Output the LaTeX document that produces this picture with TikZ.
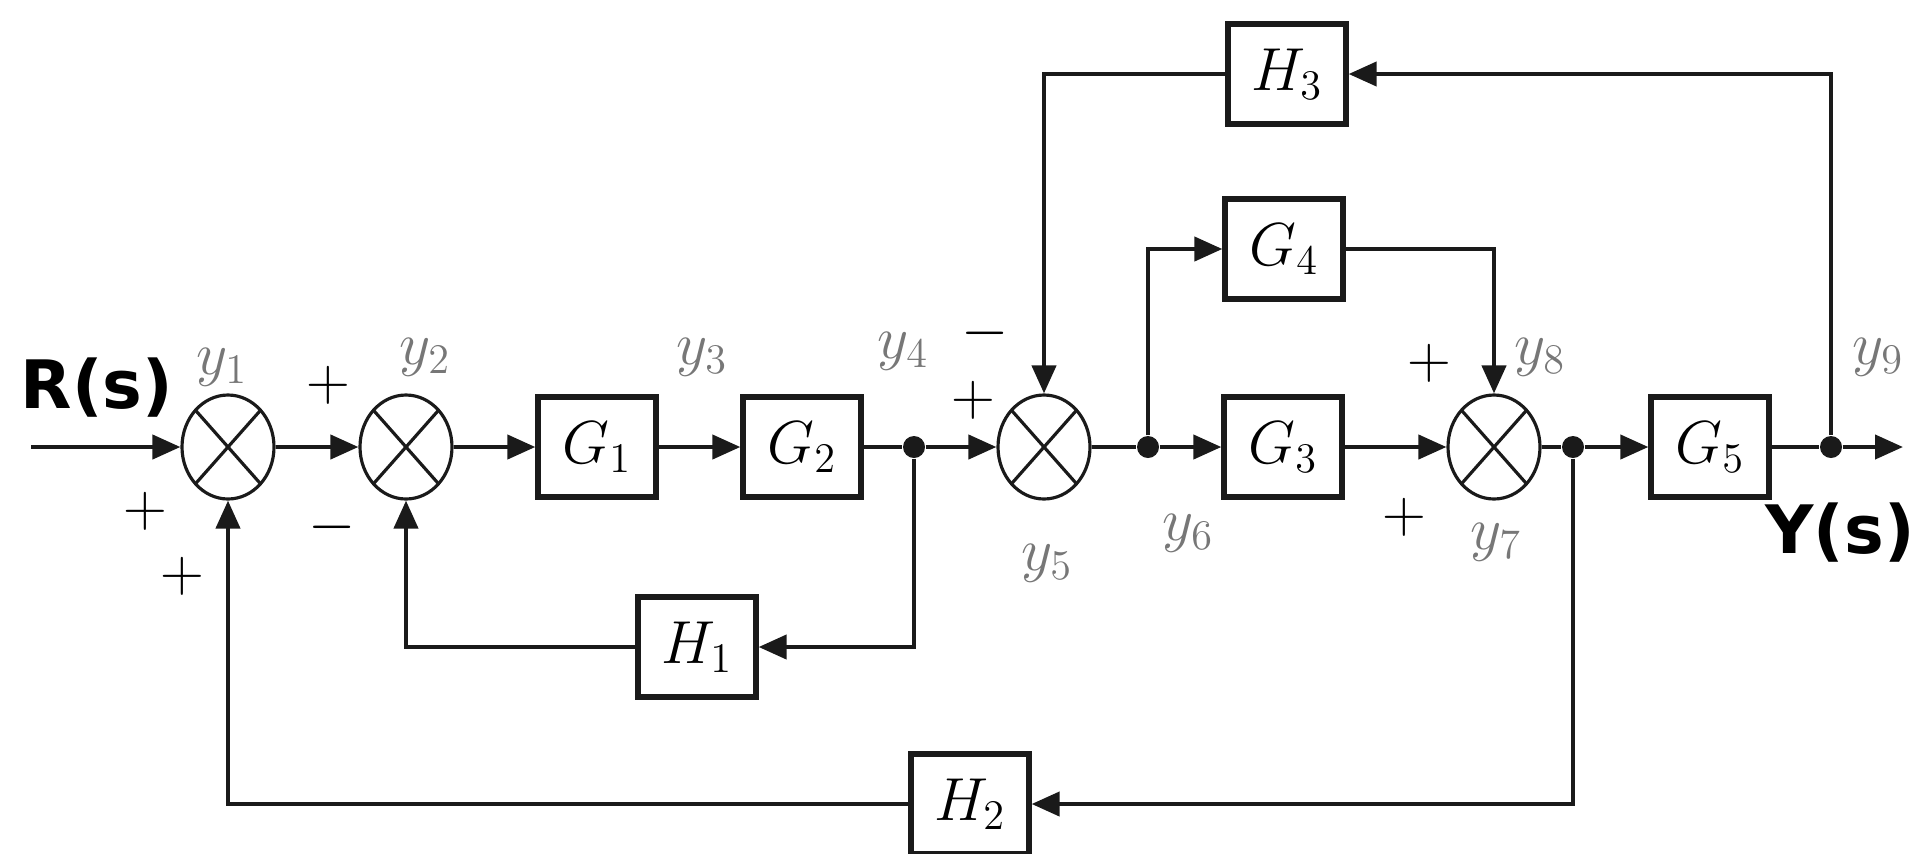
\documentclass[tikz,border=0pt]{standalone}
\usepackage{fontspec}
\usepackage{tikz}
\usetikzlibrary{arrows.meta, positioning, shapes.geometric}
\newfontfamily\sigfont{DejaVu Sans}
\definecolor{bdInk}{HTML}{1A1A1A}
\definecolor{bdLabel}{HTML}{777777}

\begin{document}
\begin{tikzpicture}[
  block/.style={draw=bdInk, line width=1.5pt, minimum width=1.18cm, minimum height=1cm,
                inner sep=0pt, font=\LARGE},
  sumj/.style={draw=bdInk, ellipse, line width=0.9pt, minimum width=0.92cm, minimum height=1.04cm,
               inner sep=0pt,
               path picture={\draw[line width=0.9pt]
                 (path picture bounding box.north west) -- (path picture bounding box.south east)
                 (path picture bounding box.north east) -- (path picture bounding box.south west);}},
  dot/.style={circle, fill=bdInk, inner sep=0pt, minimum size=2.2mm},
  sig/.style={font=\LARGE, text=bdLabel},
  sgn/.style={font=\LARGE},
  io/.style={font=\sigfont\bfseries\fontsize{19}{22}\selectfont},
  arr/.style={-{Triangle[length=2.8mm, width=2.4mm]}, line width=1.2pt, color=bdInk},
  wire/.style={line width=1.2pt, color=bdInk}
]
\useasboundingbox (0,0) rectangle (19.31,8.53);

% forward path
\coordinate (in) at (0.31,4.06);
\node[sumj] (s1) at (2.28,4.06) {};
\node[sumj] (s2) at (4.06,4.06) {};
\node[block] (G1) at (5.97,4.06) {$G_1$};
\node[block] (G2) at (8.02,4.06) {$G_2$};
\node[dot] (j4) at (9.14,4.06) {};
\node[sumj] (s3) at (10.44,4.06) {};
\node[dot] (j6) at (11.48,4.06) {};
\node[block] (G3) at (12.83,4.06) {$G_3$};
\node[sumj] (s4) at (14.94,4.06) {};
\node[dot] (j8) at (15.73,4.06) {};
\node[block] (G5) at (17.10,4.06) {$G_5$};
\node[dot] (j9) at (18.31,4.06) {};
\coordinate (out) at (19.03,4.06);

% feedback and feedforward blocks
\node[block] (G4) at (12.84,6.04) {$G_4$};
\node[block] (H3) at (12.87,7.79) {$H_3$};
\node[block] (H1) at (6.97,2.06) {$H_1$};
\node[block] (H2) at (9.70,0.49) {$H_2$};

\draw[arr] (in) -- (s1);
\draw[arr] (s1) -- (s2);
\draw[arr] (s2) -- (G1);
\draw[arr] (G1) -- (G2);
\draw[wire] (G2) -- (j4);
\draw[arr] (j4) -- (s3);
\draw[wire] (s3) -- (j6);
\draw[arr] (j6) -- (G3);
\draw[arr] (G3) -- (s4);
\draw[wire] (s4) -- (j8);
\draw[arr] (j8) -- (G5);
\draw[wire] (G5) -- (j9);
\draw[arr] (j9) -- (out);

\draw[arr] (j4) |- (H1);
\draw[arr] (H1) -| (s2);
\draw[arr] (j8) |- (H2);
\draw[arr] (H2) -| (s1);
\draw[arr] (j9) |- (H3);
\draw[arr] (H3) -| (s3);
\draw[arr] (j6) |- (G4);
\draw[arr] (G4) -| (s4);

% signals
\node[io] (R) at (0.97,4.65) {R(s)};
\node[io, anchor=east] (Y) at (19.27,3.20) {Y(s)};
\node[sig] (y1) at (2.22,4.86) {$y_1$};
\node[sig] (y2) at (4.25,4.96) {$y_2$};
\node[sig] (y3) at (7.02,4.96) {$y_3$};
\node[sig] (y4) at (9.03,5.02) {$y_4$};
\node[sig] (y5) at (10.47,2.90) {$y_5$};
\node[sig] (y6) at (11.88,3.20) {$y_6$};
\node[sig] (y7) at (14.96,3.11) {$y_7$};
\node[sig] (y8) at (15.40,4.96) {$y_8$};
\node[sig] (y9) at (18.78,4.96) {$y_9$};

% signs
\node[sgn] (p1a) at (1.45,3.42) {$+$};
\node[sgn] (p1b) at (1.82,2.77) {$+$};
\node[sgn] (p2a) at (3.28,4.68) {$+$};
\node[sgn] (m2) at (3.32,3.26) {$-$};
\node[sgn] (p3) at (9.73,4.53) {$+$};
\node[sgn] (m3) at (9.85,5.20) {$-$};
\node[sgn] (p4a) at (14.29,4.90) {$+$};
\node[sgn] (p4b) at (14.04,3.36) {$+$};

\end{tikzpicture}
\end{document}
